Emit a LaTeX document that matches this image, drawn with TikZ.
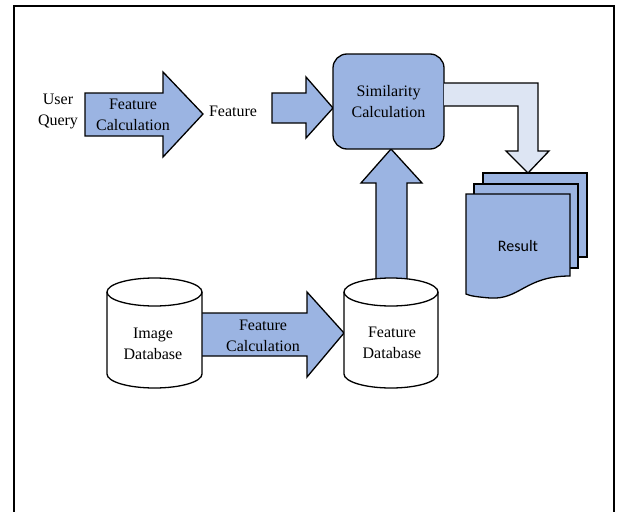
\documentclass[tikz,border=0pt]{standalone}
\usepackage{fontspec}
\setmainfont{Liberation Serif}
\newfontfamily\resfont{Carlito}
\definecolor{blk}{HTML}{9BB4E2}
\definecolor{lblk}{HTML}{DDE5F3}
\tikzset{
  blockarrow/.style={draw=black, line width=1.3pt, fill=blk, line join=miter},
  lightarrow/.style={draw=black, line width=1.3pt, fill=lblk, line join=miter},
  sheet/.style={draw=black, line width=1.3pt, fill=blk},
  cyl/.style={draw=black, line width=1.3pt, fill=white},
  txt/.style={font=\fontsize{16}{21}\selectfont, align=center, inner sep=0pt},
}
\begin{document}
\begin{tikzpicture}[x=1pt,y=-1pt]
\useasboundingbox (0,0) rectangle (620,511);
% frame (open at bottom)
\draw[line width=1.2pt] (14,515) -- (14,6) -- (614,6) -- (614,515);

% arrow 1: User query -> Feature
\draw[blockarrow] (85,93) -- (163,93) -- (163,72) -- (203,114) -- (163,157) -- (163,136) -- (85,136) -- cycle;
% arrow 2: Feature -> Similarity
\draw[blockarrow] (272,93) -- (306,93) -- (306,77) -- (333,108) -- (306,138) -- (306,123) -- (272,123) -- cycle;
% up arrow: Feature database -> Similarity
\draw[blockarrow] (376,285) -- (376,183) -- (361,183) -- (391,149) -- (422,183) -- (407,183) -- (407,285) -- cycle;
% arrow 3: Image DB -> Feature DB
\draw[blockarrow] (198,313) -- (307,313) -- (307,292) -- (344,333) -- (307,377) -- (307,356) -- (198,356) -- cycle;

% similarity box
\node[draw=black, line width=1.3pt, fill=blk, rounded corners=14pt,
      minimum width=111pt, minimum height=95pt, txt] (sim) at (388.5,101.5) {Similarity\\Calculation};

% light elbow arrow: Similarity -> Result
\draw[lightarrow] (444,83) -- (538,83) -- (538,151) -- (549,151) -- (528,173) -- (506,151) -- (518,151) -- (518,106) -- (444,106);

% result stack
\draw[sheet] (483,173) rectangle (587,257);
\draw[sheet] (474,184) rectangle (578,268);
\draw[sheet] (466,194) -- (570,194) -- (570,276)
  .. controls (525,276) and (520,300) .. (490,298)
  .. controls (478,297) and (470,296) .. (466,294) -- cycle;
\node[inner sep=0pt, font=\resfont\fontsize{16}{21}\selectfont] (res) at (518,246) {Result};

% cylinders
\draw[cyl] (107,292) -- (107,374) arc[start angle=180, end angle=360, x radius=47.5, y radius=-14] -- (202,292);
\draw[cyl] (154.5,292) ellipse[x radius=47.5, y radius=14];
\draw[cyl] (344,292) -- (344,374) arc[start angle=180, end angle=360, x radius=47, y radius=-14] -- (438,292);
\draw[cyl] (391,292) ellipse[x radius=47, y radius=14];

% texts
\node[txt] (uq) at (58,111) {User\\Query};
\node[txt] (fc1) at (133,114.5) {Feature\\Calculation};
\node[txt] (feat) at (233,111) {Feature};
\node[txt] (fc2) at (263,335.5) {Feature\\Calculation};
\node[txt] (idb) at (153,343.5) {Image\\Database};
\node[txt] (fdb) at (392,342.5) {Feature\\Database};
\end{tikzpicture}
\end{document}
